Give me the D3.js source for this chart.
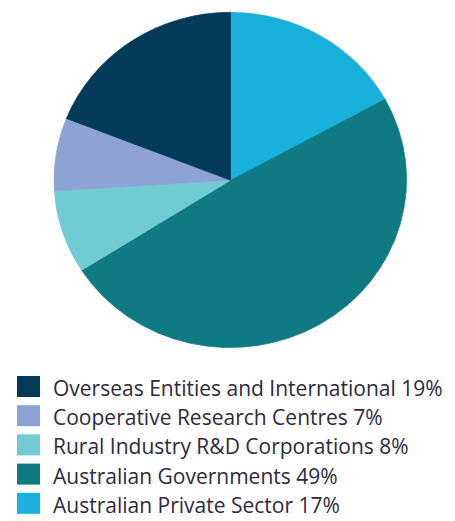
<!DOCTYPE html>
<html>
<head>
<meta charset="utf-8">
<script src="https://cdn.jsdelivr.net/npm/d3@7/dist/d3.min.js"></script>
<style>
  html, body { margin: 0; padding: 0; background: #fff; }
  svg { display: block; }
</style>
</head>
<body>
<svg id="chart" width="455" height="521"></svg>
<script>
// Sources of funding, share of total (%), drawn clockwise from 12 o'clock
const categories = [
  "Australian Private Sector",
  "Australian Governments",
  "Rural Industry R&D Corporations",
  "Cooperative Research Centres",
  "Overseas Entities and International"
];
const values = [17, 49, 8, 7, 19];
const colors = ["#19b0dc", "#107a83", "#71cbd2", "#8da3d3", "#023a58"];

// Legend lists the series in reverse drawing order
const legendOrder = [4, 3, 2, 1, 0];

const svg = d3.select("#chart");

const cx = 230.5, cy = 180.3, rx = 176.5, ry = 168;

const pie = d3.pie().sort(null).value(d => d.value);
const arcs = pie(categories.map((c, i) => ({ name: c, value: values[i], color: colors[i] })));
const arc = d3.arc().innerRadius(0).outerRadius(1);

const g = svg.append("g")
  .attr("transform", `translate(${cx},${cy}) scale(${rx},${ry})`);

g.selectAll("path")
  .data(arcs)
  .join("path")
  .attr("d", arc)
  .attr("fill", d => d.data.color)
  .attr("stroke", d => d.data.color)
  .attr("stroke-width", 0.004);

// Legend
const legend = svg.append("g").attr("transform", "translate(17,376)");
const rowH = 29.2;
const rows = legend.selectAll("g")
  .data(legendOrder)
  .join("g")
  .attr("transform", (d, i) => `translate(0,${i * rowH})`);

rows.append("rect")
  .attr("x", 0).attr("y", 0)
  .attr("width", 23).attr("height", 21)
  .attr("fill", i => colors[i]);

rows.append("text")
  .attr("x", 36).attr("y", 20)
  .attr("font-family", "'Open Sans', sans-serif")
  .attr("font-size", 21)
  .attr("fill", "#2e2a3e")
  .text(i => `${categories[i]} ${values[i]}%`);
</script>
</body>
</html>
